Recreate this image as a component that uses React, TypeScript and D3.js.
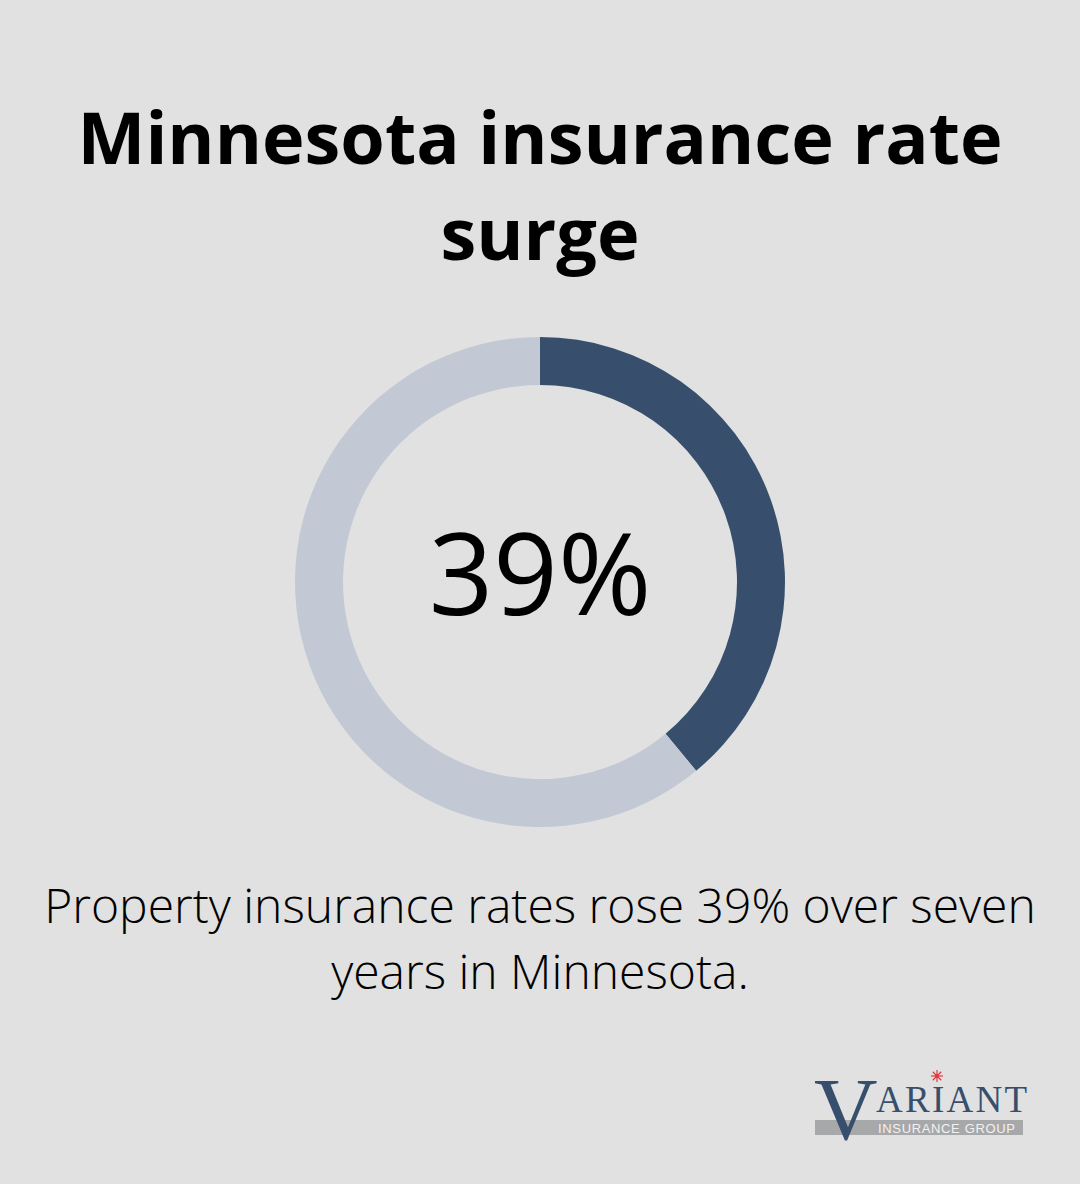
import React, { useEffect, useRef } from "react";
import * as d3 from "d3";

const titleLines = ["Minnesota insurance rate", "surge"];
const share = [
  { label: "Rate increase", value: 39 },
  { label: "Remainder", value: 61 },
];
const centerLabel = "39%";
const captionLines = [
  "Property insurance rates rose 39% over seven",
  "years in Minnesota.",
];

const W = 1080;
const H = 1184;

export default function App() {
  const svgRef = useRef<SVGSVGElement>(null);

  useEffect(() => {
    if (!svgRef.current) return;
    const svg = d3.select(svgRef.current);
    svg.selectAll("*").remove();

    svg.append("rect").attr("width", W).attr("height", H).attr("fill", "#e0e1e0");

    // title
    svg
      .append("g")
      .selectAll("text")
      .data(titleLines)
      .enter()
      .append("text")
      .attr("x", W / 2)
      .attr("y", (_d, i) => 164 + i * 96)
      .attr("text-anchor", "middle")
      .style("font-family", "'Open Sans', sans-serif")
      .style("font-weight", "700")
      .style("font-size", "72px")
      .style("fill", "#000")
      .text((d) => d);

    // donut
    const cx = 540;
    const cy = 582;
    const g = svg.append("g").attr("transform", `translate(${cx},${cy})`);
    const color = d3.scaleOrdinal<string>().domain(share.map((d) => d.label)).range(["#374f6d", "#c2c9d4"]);
    const pie = d3
      .pie<{ label: string; value: number }>()
      .value((d) => d.value)
      .sort(null);
    const arc = d3
      .arc<d3.PieArcDatum<{ label: string; value: number }>>()
      .innerRadius(197)
      .outerRadius(245);

    g.selectAll("path")
      .data(pie(share))
      .enter()
      .append("path")
      .attr("d", arc)
      .attr("fill", (d) => color(d.data.label));

    g.append("text")
      .attr("text-anchor", "middle")
      .attr("y", 33)
      .style("font-family", "'Open Sans', sans-serif")
      .style("font-size", "113px")
      .style("fill", "#000")
      .text(centerLabel);

    // caption
    svg
      .append("g")
      .selectAll("text")
      .data(captionLines)
      .enter()
      .append("text")
      .attr("x", W / 2)
      .attr("y", (_d, i) => 923 + i * 66)
      .attr("text-anchor", "middle")
      .style("font-family", "'Open Sans', sans-serif")
      .style("font-weight", "300")
      .style("font-size", "48px")
      .style("fill", "#000")
      .text((d) => d);

    // logo
    const logo = svg.append("g");
    logo.append("rect").attr("x", 815).attr("y", 1120).attr("width", 208).attr("height", 15).attr("fill", "#a7a8a9");
    logo
      .append("text")
      .attr("x", 878)
      .attr("y", 1132.5)
      .attr("textLength", 137)
      .style("font-family", "'Liberation Sans Narrow', 'Liberation Sans', sans-serif")
      .style("font-size", "13px")
      .style("fill", "#f2f2f2")
      .text("INSURANCE GROUP");
    logo
      .append("text")
      .attr("x", 814)
      .attr("y", 1139)
      .style("font-family", "'Liberation Serif', serif")
      .style("font-size", "88px")
      .style("fill", "#374f6d")
      .text("V");
    logo
      .append("text")
      .attr("x", 876)
      .attr("y", 1112)
      .attr("textLength", 151)
      .style("font-family", "'Liberation Serif', serif")
      .style("font-size", "37px")
      .style("fill", "#374f6d")
      .text("ARIANT");
    const star = logo.append("g").attr("transform", "translate(937,1076)");
    d3.range(8).forEach((i) => {
      const a = (i * Math.PI) / 4;
      star
        .append("line")
        .attr("x1", 0)
        .attr("y1", 0)
        .attr("x2", Math.cos(a) * 6)
        .attr("y2", Math.sin(a) * 6)
        .attr("stroke", "#e03a3e")
        .attr("stroke-width", 1.2);
    });
    star.append("circle").attr("r", 2).attr("fill", "#e03a3e");
  }, []);

  return (
    <svg
      ref={svgRef}
      width={W}
      height={H}
      style={{ position: "absolute", left: 0, top: 0, display: "block" }}
    />
  );
}
